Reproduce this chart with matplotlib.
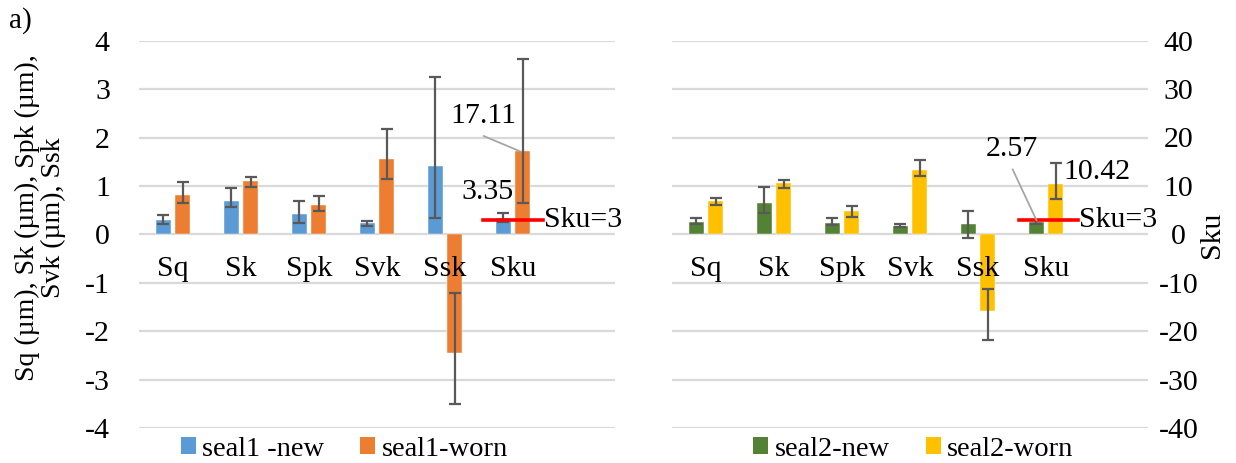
import numpy as np
import matplotlib
matplotlib.use("Agg")
import matplotlib.pyplot as plt
from matplotlib.patches import Patch

plt.rcParams['font.family'] = ['Liberation Serif', 'DejaVu Serif']

# ---- data -------------------------------------------------------------
params = ["Sq", "Sk", "Spk", "Svk", "Ssk"]          # µm (Ssk dimensionless)
sku_label = "Sku"

seal1_new = [0.29, 0.69, 0.42, 0.23, 1.41]
seal1_new_lo = [0.22, 0.56, 0.24, 0.18, 0.33]
seal1_new_hi = [0.39, 0.96, 0.69, 0.27, 3.25]
seal1_worn = [0.81, 1.10, 0.60, 1.55, -2.46]
seal1_worn_lo = [0.64, 0.97, 0.49, 1.14, -3.51]
seal1_worn_hi = [1.08, 1.19, 0.80, 2.18, -1.22]

seal2_new = [0.25, 0.65, 0.24, 0.18, 0.21]
seal2_new_lo = [0.22, 0.43, 0.19, 0.15, -0.08]
seal2_new_hi = [0.34, 0.97, 0.34, 0.21, 0.49]
seal2_worn = [0.68, 1.06, 0.49, 1.32, -1.59]
seal2_worn_lo = [0.61, 0.95, 0.35, 1.20, -2.18]
seal2_worn_hi = [0.76, 1.12, 0.59, 1.53, -1.14]

# kurtosis, plotted against the secondary axis
sku1_new, sku1_new_lo, sku1_new_hi = 3.35, 2.6, 4.3
sku1_worn, sku1_worn_lo, sku1_worn_hi = 17.11, 6.4, 36.3
sku2_new, sku2_new_lo, sku2_new_hi = 2.57, 2.1, 2.9
sku2_worn, sku2_worn_lo, sku2_worn_hi = 10.42, 7.3, 14.8
sku_ref = 3

c_blue, c_orange = "#5B9BD5", "#ED7D31"
c_green, c_yellow = "#548235", "#FFC000"
err_c = "#595959"
grid_c = "#D9D9D9"

W, H = 1236, 463
fig = plt.figure(figsize=(W / 100, H / 100), dpi=100)


def fx(px):
    return px / W


def fy(py):
    return 1 - py / H


bw = 0.225
off = 0.142
ax_bottom = fy(427.9)
ax_h = (427.9 - 40.7) / H
ax_w = 476 / W
x_pos = np.arange(len(params))
ekw = dict(ecolor=err_c, elinewidth=1.6, capsize=4.5, capthick=1.6)
FS = 21.5      # tick, category and value labels
FS_LEG = 20.5


def yerr(v, lo, hi):
    v, lo, hi = np.atleast_1d(v), np.atleast_1d(lo), np.atleast_1d(hi)
    return np.vstack([v - lo, hi - v])


def panel(left_px, new, new_lo, new_hi, worn, worn_lo, worn_hi,
          sku_n, sku_n_lo, sku_n_hi, sku_w, sku_w_lo, sku_w_hi,
          cn, cw):
    ax = fig.add_axes([fx(left_px), ax_bottom, ax_w, ax_h])
    ax.set_xlim(-0.5, 6.5)
    ax.set_ylim(-4, 4)
    ax.set_yticks(np.arange(-4, 5, 1))
    ax.yaxis.grid(True, color=grid_c, linewidth=1.6)
    ax.set_axisbelow(True)
    for s in ax.spines.values():
        s.set_visible(False)
    ax.tick_params(axis='both', length=0)
    ax.set_xticks([])
    ax.bar(x_pos - off, new, bw, color=cn, edgecolor='white', linewidth=0.3,
           yerr=yerr(new, new_lo, new_hi), error_kw=ekw, zorder=2)
    ax.bar(x_pos + off, worn, bw, color=cw, edgecolor='white', linewidth=0.3,
           yerr=yerr(worn, worn_lo, worn_hi), error_kw=ekw, zorder=2)

    tx = ax.twinx()
    tx.set_ylim(-40, 40)
    tx.set_yticks(np.arange(-40, 41, 10))
    for s in tx.spines.values():
        s.set_visible(False)
    tx.tick_params(axis='both', length=0)
    k = len(params)
    tx.bar([k - off], [sku_n], bw, color=cn, edgecolor='white', linewidth=0.3,
           yerr=yerr(sku_n, sku_n_lo, sku_n_hi), error_kw=ekw, zorder=2)
    tx.bar([k + off], [sku_w], bw, color=cw, edgecolor='white', linewidth=0.3,
           yerr=yerr(sku_w, sku_w_lo, sku_w_hi), error_kw=ekw, zorder=2)
    # category names sit just below the zero line
    for i, name in enumerate(params + [sku_label]):
        tx.text(i, -7.2, name, ha='center', va='center', fontsize=FS, zorder=5)
    return ax, tx


# ---- left panel: seal 1 ----------------------------------------------
axL, txL = panel(139, seal1_new, seal1_new_lo, seal1_new_hi,
                 seal1_worn, seal1_worn_lo, seal1_worn_hi,
                 sku1_new, sku1_new_lo, sku1_new_hi,
                 sku1_worn, sku1_worn_lo, sku1_worn_hi, c_blue, c_orange)
axL.tick_params(axis='y', labelsize=FS, pad=21)
axL.set_yticklabels([str(v) for v in range(-4, 5)])
txL.set_yticks([])
txL.plot([4.56, 5.44], [sku_ref, sku_ref], color='#FF0000', lw=2.6, zorder=6)
txL.text(5.45, sku_ref, f"Sku={sku_ref}", ha='left', va='center', fontsize=FS, zorder=6)
txL.text(4.62, 8.7, f"{sku1_new:.2f}", ha='center', va='center', fontsize=FS, zorder=6)
txL.text(4.56, 24.4, f"{sku1_worn:.2f}", ha='center', va='center', fontsize=FS, zorder=6)
txL.plot([4.57, 5.11], [20.3, sku1_worn], color='#A6A6A6', lw=1.3, zorder=6)

# ---- right panel: seal 2 ---------------------------------------------
axR, txR = panel(672, seal2_new, seal2_new_lo, seal2_new_hi,
                 seal2_worn, seal2_worn_lo, seal2_worn_hi,
                 sku2_new, sku2_new_lo, sku2_new_hi,
                 sku2_worn, sku2_worn_lo, sku2_worn_hi, c_green, c_yellow)
axR.set_yticklabels([])
txR.tick_params(axis='y', labelsize=FS, pad=22)
txR.set_yticklabels([str(v) for v in range(-40, 41, 10)])
for lab in txR.get_yticklabels():
    lab.set_horizontalalignment('center')
txR.plot([4.6, 5.47], [sku_ref, sku_ref], color='#FF0000', lw=2.6, zorder=6)
txR.text(5.49, sku_ref, f"Sku={sku_ref}", ha='left', va='center', fontsize=FS, zorder=6)
txR.text(4.5, 17.6, f"{sku2_new:.2f}", ha='center', va='center', fontsize=FS, zorder=6)
txR.plot([4.51, 4.86], [13.4, 2.9], color='#A6A6A6', lw=1.3, zorder=6)
txR.text(5.26, 12.9, f"{sku2_worn:.2f}", ha='left', va='center', fontsize=FS, zorder=6)

# ---- axis titles and panel tag ---------------------------------------
fig.text(fx(40), fy(218), "Sq (µm), Sk (µm), Spk (µm),\nSvk (µm), Ssk",
         rotation=90, ha='center', va='center', multialignment='center',
         fontsize=20, linespacing=1.05)
fig.text(fx(1212), fy(235), "Sku", rotation=90, ha='center', va='center', fontsize=FS)
fig.text(fx(9), fy(21), "a)", ha='left', va='center', fontsize=21)

# ---- legends ----------------------------------------------------------
def legend(labels, colors, x_px):
    handles = [Patch(facecolor=c, edgecolor='none') for c in colors]
    fig.legend(handles, labels, loc='center left',
               bbox_to_anchor=(fx(x_px), fy(449)), ncol=2, frameon=False,
               fontsize=FS_LEG, handlelength=0.53, handleheight=0.53,
               handletextpad=0.23, columnspacing=1.25, borderpad=0,
               borderaxespad=0)


legend(["seal1 -new", "seal1-worn"], [c_blue, c_orange], 180.7)
legend(["seal2-new", "seal2-worn"], [c_green, c_yellow], 753.3)

fig.savefig("out.png", dpi=100)
